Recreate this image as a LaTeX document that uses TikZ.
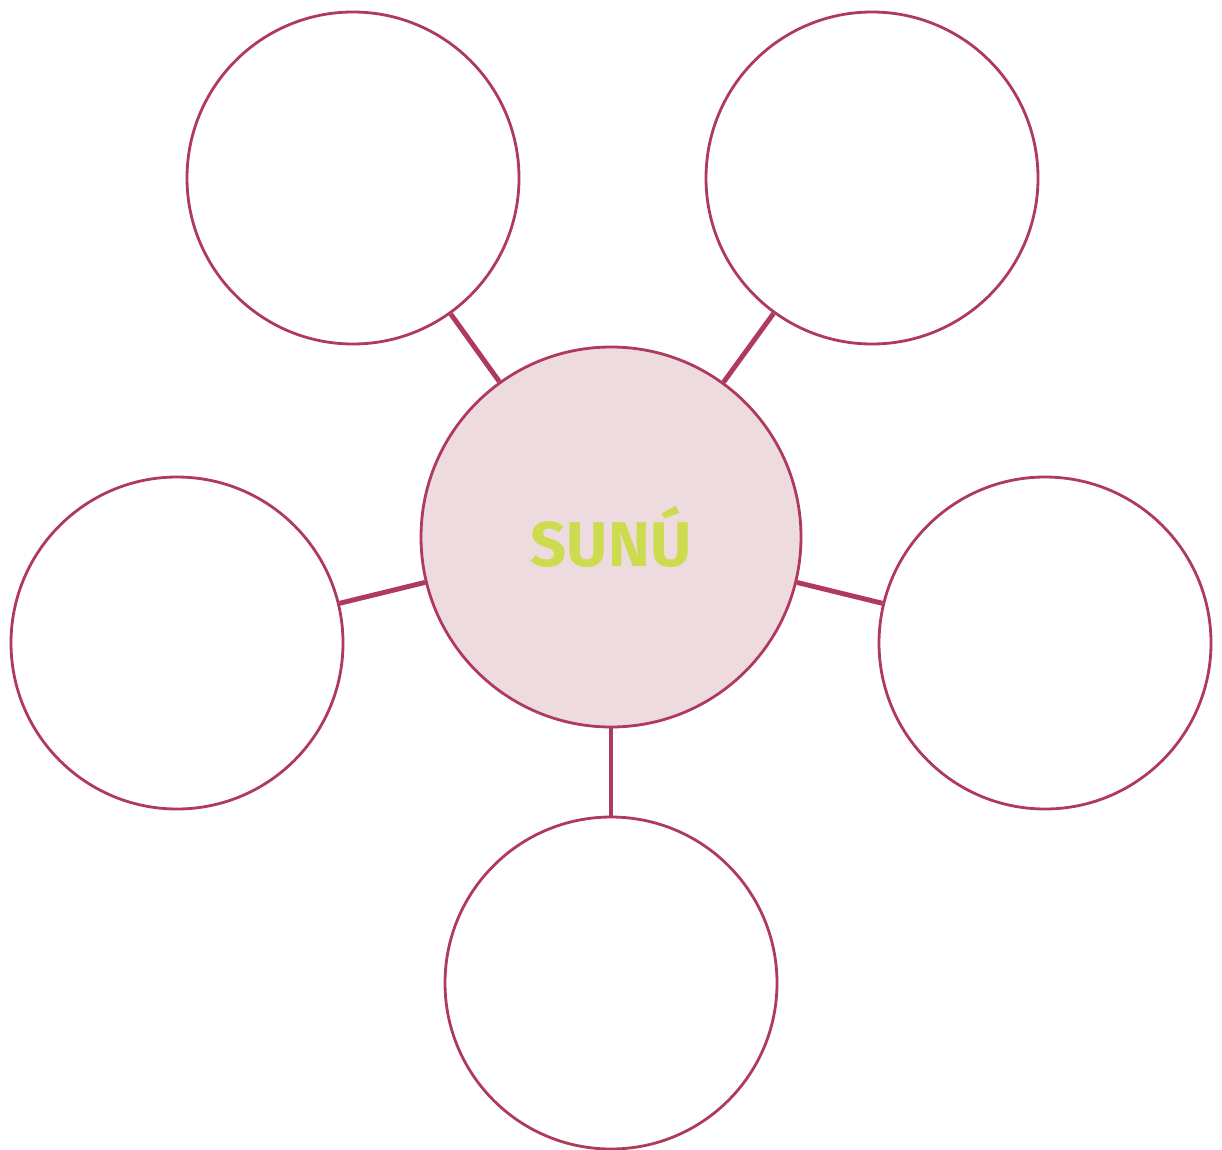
\documentclass[tikz,border=0pt]{standalone}
\usepackage{fontspec}
\setmainfont{Fira Sans}
\usetikzlibrary{positioning}
\definecolor{rim}{HTML}{B03A5E}
\definecolor{pinkfill}{HTML}{EDDBDF}
\definecolor{lime}{HTML}{CDDB50}

\begin{document}
\begin{tikzpicture}[
  bubble/.style={circle,draw=rim,line width=0.8pt,minimum size=3.32cm,inner sep=0pt},
  hub/.style={circle,draw=rim,fill=pinkfill,line width=0.8pt,minimum size=3.8cm,inner sep=0pt},
  spoke/.style={draw=rim,line width=1.4pt}]
  \useasboundingbox (0,0) rectangle (12.22,-11.49);
  \node[hub,font=\fontsize{18}{20}\bfseries\selectfont,text=lime] (sunu) at (6.11,-5.37) {SUNÚ};
  \node[bubble] (topleft) at (3.53,-1.78) {};
  \node[bubble] (topright) at (8.72,-1.78) {};
  \node[bubble] (left) at (1.77,-6.43) {};
  \node[bubble] (right) at (10.45,-6.43) {};
  \node[bubble] (bottom) at (6.11,-9.83) {};
  \draw[spoke] (sunu) -- (topleft);
  \draw[spoke] (sunu) -- (topright);
  \draw[spoke] (sunu) -- (left);
  \draw[spoke] (sunu) -- (right);
  \draw[spoke] (sunu) -- (bottom);
\end{tikzpicture}
\end{document}
